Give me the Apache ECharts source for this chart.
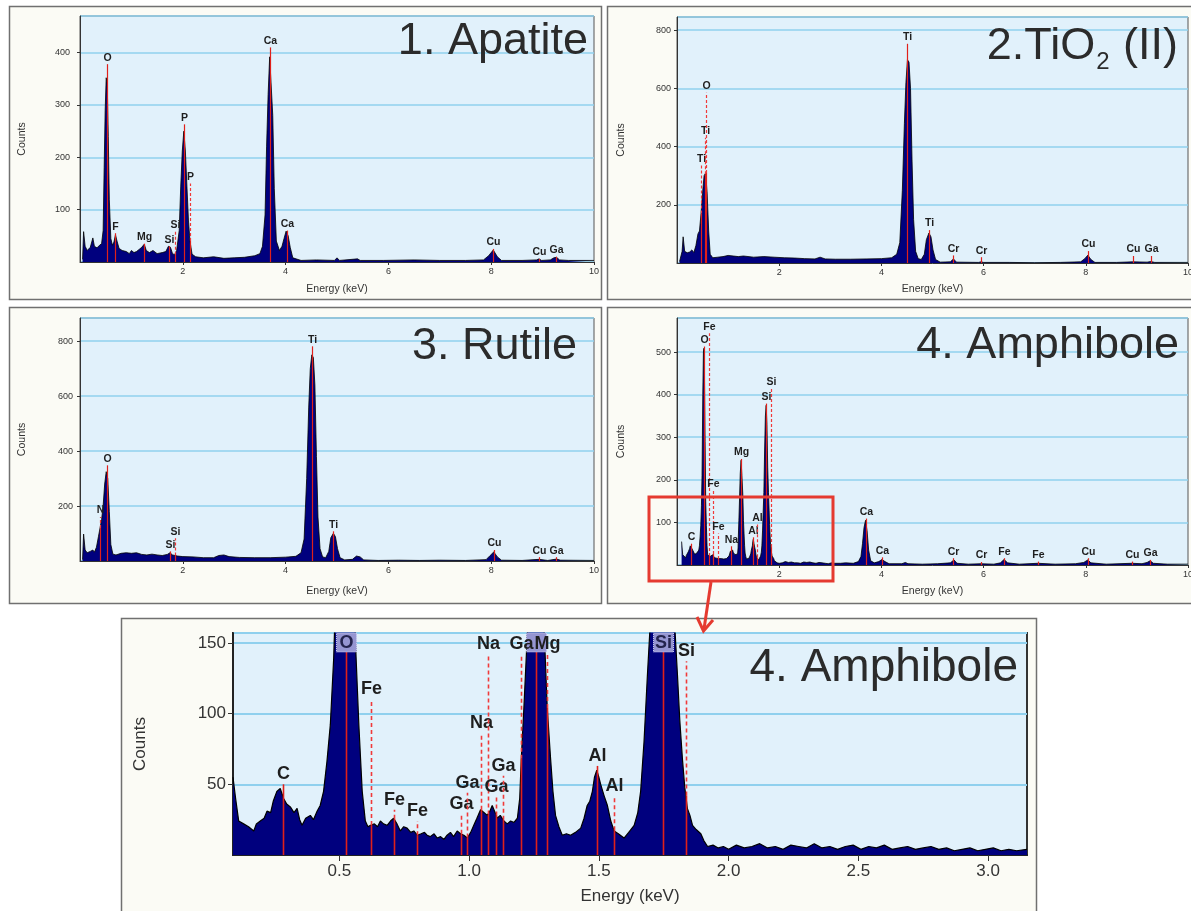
<!DOCTYPE html>
<html><head><meta charset="utf-8">
<script src="https://cdn.jsdelivr.net/npm/echarts@6/dist/echarts.min.js"></script>
<style>html,body{margin:0;padding:0;background:#fff}#c{width:1191px;height:911px}</style>
</head><body><div id="c"></div>
<script>
// ---------------- DATA ----------------
const panelTitles = ['1. Apatite', '2.TiO', '3. Rutile', '4. Amphibole', '4. Amphibole'];
const xAxisName = 'Energy (keV)';
const yAxisName = 'Counts';
const zoomTickValues = [0.5, 1.0, 1.5, 2.0, 2.5, 3.0];

// [energy keV, counts]
const apatiteSpectrum = [[0.05,5],[0.07,58],[0.1,30],[0.14,22],[0.2,28],[0.25,46],[0.28,30],[0.33,27],[0.38,32],[0.42,35],[0.45,60],[0.47,180],[0.49,290],[0.51,352],[0.53,340],[0.55,240],[0.57,120],[0.6,45],[0.63,32],[0.66,38],[0.69,52],[0.72,40],[0.76,26],[0.82,22],[0.9,20],[0.96,16],[1.0,22],[1.05,18],[1.1,20],[1.15,24],[1.2,28],[1.25,34],[1.29,22],[1.35,18],[1.42,22],[1.5,16],[1.6,18],[1.67,20],[1.72,30],[1.76,28],[1.8,16],[1.84,14],[1.88,22],[1.93,60],[1.96,145],[1.99,212],[2.02,250],[2.05,212],[2.08,145],[2.11,80],[2.14,40],[2.18,15],[2.25,10],[2.4,8],[2.6,10],[2.8,7],[3.0,8],[3.2,9],[3.4,12],[3.5,16],[3.55,30],[3.6,90],[3.63,220],[3.66,320],[3.69,392],[3.72,390],[3.75,280],[3.78,140],[3.82,40],[3.88,22],[3.93,30],[3.97,45],[4.01,59],[4.05,50],[4.09,28],[4.14,8],[4.3,3],[4.6,4],[4.95,3],[5.0,8],[5.05,3],[5.4,6],[5.45,3],[5.9,3],[6.5,4],[7.0,3],[7.5,3],[7.85,4],[7.95,12],[8.04,23],[8.12,10],[8.2,3],[8.6,3],[8.88,4],[8.93,6],[8.98,3],[9.15,4],[9.22,8],[9.27,9],[9.33,4],[9.5,3],[10,3]];

const tio2Spectrum = [[0.05,5],[0.1,40],[0.12,90],[0.15,40],[0.2,35],[0.25,38],[0.29,45],[0.33,36],[0.37,60],[0.41,100],[0.44,110],[0.47,170],[0.5,240],[0.53,300],[0.56,309],[0.59,240],[0.62,110],[0.65,30],[0.7,18],[0.8,20],[0.9,22],[1.0,26],[1.1,24],[1.2,22],[1.3,24],[1.5,20],[1.7,22],[1.9,20],[2.1,18],[2.3,17],[2.5,15],[2.7,14],[2.8,20],[2.9,14],[3.1,13],[3.4,13],[3.7,14],[4.0,15],[4.2,18],[4.3,30],[4.36,70],[4.41,250],[4.45,480],[4.48,620],[4.51,698],[4.54,690],[4.57,600],[4.6,350],[4.63,150],[4.67,40],[4.72,15],[4.78,12],[4.84,30],[4.88,80],[4.93,103],[4.97,90],[5.01,45],[5.06,12],[5.15,3],[5.35,4],[5.41,14],[5.47,3],[5.9,2],[5.95,4],[6.0,2],[6.5,2],[7.0,1],[7.5,2],[7.9,4],[7.98,15],[8.04,27],[8.1,12],[8.18,2],[8.6,2],[8.92,4],[9.2,3],[9.27,5],[9.35,2],[10,2]];

const rutileSpectrum = [[0.05,5],[0.07,98],[0.1,40],[0.14,30],[0.2,35],[0.25,40],[0.28,32],[0.32,50],[0.36,90],[0.39,120],[0.42,150],[0.45,200],[0.48,280],[0.51,325],[0.54,300],[0.57,180],[0.6,60],[0.64,25],[0.7,22],[0.8,28],[0.9,30],[1.0,28],[1.1,30],[1.2,24],[1.3,22],[1.4,25],[1.5,22],[1.6,20],[1.7,24],[1.75,30],[1.8,22],[1.9,18],[2.0,16],[2.2,15],[2.4,12],[2.6,12],[2.7,20],[2.8,22],[2.9,16],[3.1,13],[3.4,12],[3.7,12],[4.0,14],[4.2,17],[4.3,30],[4.36,80],[4.41,300],[4.45,560],[4.48,700],[4.51,750],[4.54,740],[4.57,640],[4.6,380],[4.63,160],[4.67,45],[4.72,15],[4.78,12],[4.84,35],[4.88,85],[4.93,101],[4.97,88],[5.01,45],[5.06,12],[5.15,4],[5.3,6],[5.38,18],[5.45,15],[5.52,4],[5.8,2],[6.2,3],[6.6,2],[7.0,3],[7.5,2],[7.9,5],[7.98,20],[8.05,33],[8.12,15],[8.2,3],[8.6,2],[8.93,6],[9.1,2],[9.27,7],[9.35,3],[10,2]];

const amphiboleLowSpectrum = [[0.09,55],[0.1,40],[0.112,24],[0.131,22],[0.15,20],[0.17,17],[0.18,22],[0.195,24],[0.21,26],[0.221,31],[0.235,30],[0.245,38],[0.259,45],[0.272,47],[0.285,40],[0.297,36],[0.311,34],[0.325,30],[0.337,33],[0.347,25],[0.356,21],[0.37,26],[0.388,28],[0.4,25],[0.414,31],[0.426,35],[0.439,45],[0.452,66],[0.465,92],[0.478,139],[0.49,210],[0.505,400],[0.517,500],[0.527,509],[0.538,440],[0.55,290],[0.562,150],[0.575,92],[0.588,45],[0.6,24],[0.61,20],[0.62,21],[0.635,22],[0.647,20],[0.658,24],[0.67,22],[0.684,21],[0.697,24],[0.709,26],[0.722,22],[0.735,17],[0.748,20],[0.761,19],[0.775,16],[0.787,17],[0.8,14],[0.815,15],[0.828,16],[0.838,14],[0.85,13],[0.865,15],[0.877,12],[0.89,13],[0.903,11],[0.915,14],[0.928,16],[0.94,13],[0.954,17],[0.967,15],[0.98,14],[0.993,12],[1.006,16],[1.018,21],[1.03,26],[1.044,32],[1.057,30],[1.07,28],[1.08,31],[1.089,35],[1.1,30],[1.108,26],[1.12,28],[1.134,24],[1.147,22],[1.16,24],[1.173,23],[1.186,26],[1.195,40],[1.201,68],[1.211,104],[1.224,155],[1.238,215],[1.254,246],[1.27,210],[1.288,165],[1.301,104],[1.314,68],[1.323,45],[1.333,28],[1.346,20],[1.359,14],[1.375,15],[1.391,14],[1.41,16],[1.43,19],[1.443,26],[1.455,35],[1.465,38],[1.475,45],[1.483,55],[1.492,60],[1.5,55],[1.507,50],[1.52,42],[1.533,35],[1.546,24],[1.559,17],[1.575,15],[1.597,12],[1.615,16],[1.636,21],[1.65,30],[1.661,45],[1.674,80],[1.687,127],[1.7,170],[1.715,270],[1.73,350],[1.745,375],[1.76,330],[1.775,230],[1.79,170],[1.803,127],[1.812,95],[1.822,68],[1.831,48],[1.841,33],[1.851,28],[1.861,21],[1.875,18],[1.893,15],[1.905,10],[1.919,6],[1.94,7],[1.96,5],[1.98,6],[2.0,4],[2.03,7],[2.06,5],[2.09,6],[2.12,8],[2.15,5],[2.18,6],[2.21,4],[2.24,7],[2.27,6],[2.3,5],[2.33,8],[2.36,5],[2.39,6],[2.42,4],[2.45,6],[2.48,7],[2.51,4],[2.54,6],[2.57,5],[2.6,7],[2.63,4],[2.66,5],[2.69,6],[2.72,4],[2.75,5],[2.78,6],[2.81,4],[2.84,5],[2.87,3],[2.9,4],[2.93,5],[2.96,3],[2.99,4],[3.02,5],[3.05,3],[3.08,4],[3.11,3],[3.15,4]];

const amphiboleHighSpectrum = [[3.2,4],[3.3,5],[3.45,4],[3.55,8],[3.6,20],[3.63,50],[3.66,88],[3.69,105],[3.72,80],[3.75,35],[3.79,10],[3.86,5],[3.95,8],[4.01,13],[4.07,8],[4.15,3],[4.4,3],[4.47,6],[4.52,3],[4.8,2],[5.1,3],[5.35,5],[5.42,12],[5.48,4],[5.7,2],[5.95,3],[6.2,2],[6.33,5],[6.4,13],[6.47,5],[6.7,2],[7.06,4],[7.4,2],[7.8,3],[7.96,6],[8.04,12],[8.1,5],[8.4,2],[8.9,4],[9.1,3],[9.2,6],[9.26,10],[9.32,4],[9.6,2],[10,2]];

// peak markers: [energy, marker top (counts), label, 's' solid | 'd' dashed, optional 'box']
const apatitePeaks = [[0.52,378,'O','s'],[0.69,55,'F','s'],[1.25,35,'Mg','s'],[1.74,30,'Si','s'],[1.84,58,'Si','d'],[2.02,263,'P','s'],[2.14,150,'P','d'],[3.70,410,'Ca','s'],[4.02,60,'Ca','s'],[8.04,25,'Cu','s'],[8.93,6,'Cu','s'],[9.27,10,'Ga','s']];
const tio2Peaks = [[0.47,335,'Ti','d'],[0.545,430,'Ti','d'],[0.56,585,'O','d'],[4.51,753,'Ti','s'],[4.93,113,'Ti','s'],[5.41,26,'Cr','s'],[5.95,20,'Cr','s'],[8.04,41,'Cu','s'],[8.92,24,'Cu','s'],[9.27,24,'Ga','s']];
const rutilePeaks = [[0.39,160,'N','d'],[0.52,348,'O','s'],[1.75,35,'Si','s'],[1.85,83,'Si','d'],[4.52,781,'Ti','s'],[4.93,108,'Ti','s'],[8.05,40,'Cu','s'],[8.93,14,'Cu','s'],[9.27,14,'Ga','s']];
const amphibolePeaks = [[0.28,50,'C','s'],[0.525,513,'O','s'],[0.622,544,'Fe','d'],[0.71,174,'Fe','d'],[0.80,74,'Fe','d'],[1.06,44,'Na','s'],[1.254,249,'Mg','s'],[1.487,65,'Al','s'],[1.557,95,'Al','d'],[1.74,379,'Si','s'],[1.835,414,'Si','d'],[3.69,109,'Ca','s'],[4.01,18,'Ca','s'],[5.41,16,'Cr','s'],[5.95,7,'Cr','s'],[6.40,16,'Fe','s'],[7.06,8,'Fe','s'],[8.04,16,'Cu','s'],[8.91,8,'Cu','s'],[9.25,12,'Ga','s']];
const amphiboleZoomPeaks = [[1.256,157,'','s','box'],[0.284,50,'C','s'],[0.527,157,'O','s','box'],[0.622,110,'Fe','d'],[0.71,32,'Fe','d'],[0.80,24,'Fe','d'],[0.967,29,'Ga','d'],[0.99,44,'Ga','d'],[1.044,86,'Na','d'],[1.072,142,'Na','d'],[1.104,41,'Ga','d'],[1.131,56,'Ga','d'],[1.201,142,'Ga','d'],[1.301,142,'Mg','d'],[1.492,63,'Al','s'],[1.558,42,'Al','d'],[1.747,157,'Si','s','box'],[1.835,137,'Si','d']];

// ---------------- CHART ----------------
const FONT = '"Liberation Sans", Arial, sans-serif';

function specAt(spec, e) {
  for (let i = 1; i < spec.length; i++) {
    if (spec[i][0] >= e) {
      const a = spec[i-1], b = spec[i];
      const t = (e - a[0]) / (b[0] - a[0]);
      return a[1] + (b[1] - a[1]) * t;
    }
  }
  return 0;
}

const panels = [
  {grid:{left:80, top:16, width:514, height:246}, xMin:0, xMax:10, yMax:470, yInt:100, spec:apatiteSpectrum, peaks:apatitePeaks, small:true, yGap:52, xGap:22, yMargin:10},
  {grid:{left:677, top:17, width:511, height:246}, xMin:0, xMax:10, yMax:845, yInt:200, spec:tio2Spectrum, peaks:tio2Peaks, small:true, yGap:50, xGap:21, yMargin:6},
  {grid:{left:80, top:318, width:514, height:243}, xMin:0, xMax:10, yMax:884, yInt:200, spec:rutileSpectrum, peaks:rutilePeaks, small:true, yGap:52, xGap:25, yMargin:7},
  {grid:{left:677, top:318, width:511, height:247}, xMin:0, xMax:10, yMax:580, yInt:100, spec:amphiboleLowSpectrum.concat(amphiboleHighSpectrum), peaks:amphibolePeaks, small:true, yGap:50, xGap:21, yMargin:6},
  {grid:{left:233, top:633, width:794, height:222}, xMin:0.09, xMax:3.15, yMax:157, yInt:50, spec:amphiboleLowSpectrum, peaks:amphiboleZoomPeaks, small:false, yGap:84, xGap:33, yMargin:7}
];

function markerSeries(idx, p) {
  const st = p.small
    ? {lw:1.2, solid:'#e0201a', dash:'#f03a3a', dashPattern:[3,2], font:'bold 10.5px ' + FONT, labelColor:'#1e1e1e', boxW:18, boxH:18}
    : {lw:1.6, solid:'#e0201a', dash:'#f03a3a', dashPattern:[4,3], font:'bold 18px ' + FONT, labelColor:'#1e1e1e', boxW:20, boxH:19};
  return {
    type:'custom', xAxisIndex:idx, yAxisIndex:idx, z:5, silent:true, animation:false,
    data: p.peaks.map(m => [m[0], m[1]]),
    renderItem: function(params, api) {
      const m = p.peaks[params.dataIndex];
      const e = m[0], top = Math.min(m[1], p.yMax), label = m[2], kind = m[3], box = m[4] === 'box';
      const base = api.coord([e, 0]);
      const x = Math.round(base[0]) + 0.5;
      const yTop = api.coord([e, top])[1];
      const sv = Math.min(specAt(p.spec, e), top);
      const ySolid = kind === 's' ? yTop : api.coord([e, sv])[1];
      const ch = [];
      ch.push({type:'line', shape:{x1:x, y1:base[1], x2:x, y2:ySolid}, style:{stroke:st.solid, lineWidth:st.lw}});
      if (kind === 'd' && ySolid > yTop) {
        ch.push({type:'line', shape:{x1:x, y1:ySolid, x2:x, y2:yTop}, style:{stroke:st.dash, lineWidth:st.lw, lineDash:st.dashPattern}});
      }
      if (box) {
        ch.push({type:'rect', shape:{x:x - st.boxW/2, y:yTop, width:st.boxW, height:st.boxH}, style:{fill:'#9696d2', stroke:'#c8c8f0', lineWidth:1, lineDash:[1,1]}});
        if (label) ch.push({type:'text', x:x, y:yTop + st.boxH/2 + 1, style:{text:label, fill:'#24244e', font:st.font, align:'center', verticalAlign:'middle', textAlign:'center', textVerticalAlign:'middle'}});
      } else if (label) {
        ch.push({type:'text', x:x, y:yTop - 1, style:{text:label, fill:st.labelColor, font:st.font, align:'center', verticalAlign:'bottom', textAlign:'center', textVerticalAlign:'bottom'}});
      }
      return {type:'group', children:ch};
    }
  };
}

const grids = [], xAxes = [], yAxes = [], series = [];
panels.forEach((p, i) => {
  const small = p.small;
  grids.push(Object.assign({show:true, backgroundColor:'#e1f1fb', borderColor: small ? '#555' : '#333', borderWidth: small ? 1 : 2, outerBoundsMode:'none', containLabel:false}, p.grid));
  const xa = {
    gridIndex:i, type:'value', min:p.xMin, max:p.xMax,
    axisLine:{show:true, onZero:false, lineStyle:{color: small ? '#333' : '#222', width: small ? 1 : 2}},
    axisTick:{show:true, length: small ? 3 : 6, lineStyle:{color:'#333'}},
    axisLabel:{fontSize: small ? 9 : 17, color:'#333', margin: small ? 5 : 8, fontFamily:FONT, showMinLabel:false},
    splitLine:{show:false},
    name:xAxisName, nameLocation:'middle', nameGap:p.xGap,
    nameTextStyle:{fontSize: small ? 10.5 : 17, color:'#333', fontFamily:FONT}
  };
  if (small) {
    xa.interval = 2;
  } else {
    xa.axisLabel.customValues = zoomTickValues;
    xa.axisLabel.showMinLabel = true;
    xa.axisLabel.formatter = v => v.toFixed(1);
    xa.axisTick.customValues = zoomTickValues;
  }
  xAxes.push(xa);
  yAxes.push({
    gridIndex:i, type:'value', min:0, max:p.yMax, interval:p.yInt,
    axisLine:{show:true, lineStyle:{color: small ? '#333' : '#222', width: small ? 1 : 2}},
    axisTick:{show:true, length: small ? 3 : 5, lineStyle:{color:'#333'}},
    axisLabel:{fontSize: small ? 9 : 17, color:'#333', margin:p.yMargin, fontFamily:FONT, showMinLabel:false, showMaxLabel:false},
    splitLine:{show:true, lineStyle:{color:'#8fd0ee', width: small ? 1.5 : 2}},
    name:yAxisName, nameLocation:'middle', nameGap:p.yGap,
    nameTextStyle:{fontSize: small ? 10.5 : 17, color:'#333', fontFamily:FONT}
  });
  series.push({
    type:'line', xAxisIndex:i, yAxisIndex:i, data:p.spec, showSymbol:false, symbol:'none',
    lineStyle:{color:'#000', width: small ? 0.8 : 1.2}, areaStyle:{color:'#00007e', opacity:1, origin:'start'},
    clip:true, silent:true, z:2, animation:false
  });
  series.push(markerSeries(i, p));
});

// title text for the TiO2 panel: "2.TiO" + subscript "2" + " (II)"
const mctx = document.createElement('canvas').getContext('2d');
function tw(text, font) { mctx.font = font; return mctx.measureText(text).width; }
const TF = '45px ' + FONT, SF = '24px ' + FONT;
const w1 = tw(panelTitles[1], TF), w2 = tw('2', SF), w3 = tw(' (II)', TF);
const t2Right = 1178, t2Left = t2Right - (w1 + w2 + w3 + 2);

const panelBoxes = [[9,6,592,293],[607,6,590,293],[9,307,592,296],[607,307,590,296],[121,618,915,300]];
const graphics = [];
panelBoxes.forEach(b => graphics.push({type:'rect', z:-100, shape:{x:b[0]+0.5, y:b[1]+0.5, width:b[2], height:b[3]}, style:{fill:'#fbfbf5', stroke:'#707070', lineWidth:1.5}}));
function title(text, x, y, align, font) {
  return {type:'text', z:100, x:x, y:y, style:{text:text, font:font || TF, fill:'#2b2b2b', align:align, verticalAlign:'middle', textAlign:align, textVerticalAlign:'middle'}};
}
graphics.push(title(panelTitles[0], 588, 42, 'right'));
graphics.push(title(panelTitles[1], t2Left, 47, 'left'));
graphics.push(title('2', t2Left + w1 + 1, 62, 'left', SF));
graphics.push(title(' (II)', t2Left + w1 + w2 + 2, 47, 'left'));
graphics.push(title(panelTitles[2], 577, 347, 'right'));
graphics.push(title(panelTitles[3], 1179, 346, 'right'));
graphics.push(title(panelTitles[4], 1018, 668, 'right', '46px ' + FONT));
// red highlight box and arrow
graphics.push({type:'rect', z:100, shape:{x:649, y:497, width:184, height:84}, style:{fill:'none', stroke:'#e53a30', lineWidth:3}});
graphics.push({type:'polyline', z:100, shape:{points:[[711,582],[704,629]]}, style:{stroke:'#e53a30', lineWidth:3, fill:'none'}});
graphics.push({type:'polyline', z:100, shape:{points:[[697,617],[703.5,631],[713,620]]}, style:{stroke:'#e53a30', lineWidth:3, fill:'none'}});

const chart = echarts.init(document.getElementById('c'), null, {renderer:'canvas'});
chart.setOption({
  animation:false,
  backgroundColor:'#ffffff',
  textStyle:{fontFamily:FONT},
  grid:grids, xAxis:xAxes, yAxis:yAxes, series:series,
  graphic:{elements:graphics}
});
</script></body></html>
